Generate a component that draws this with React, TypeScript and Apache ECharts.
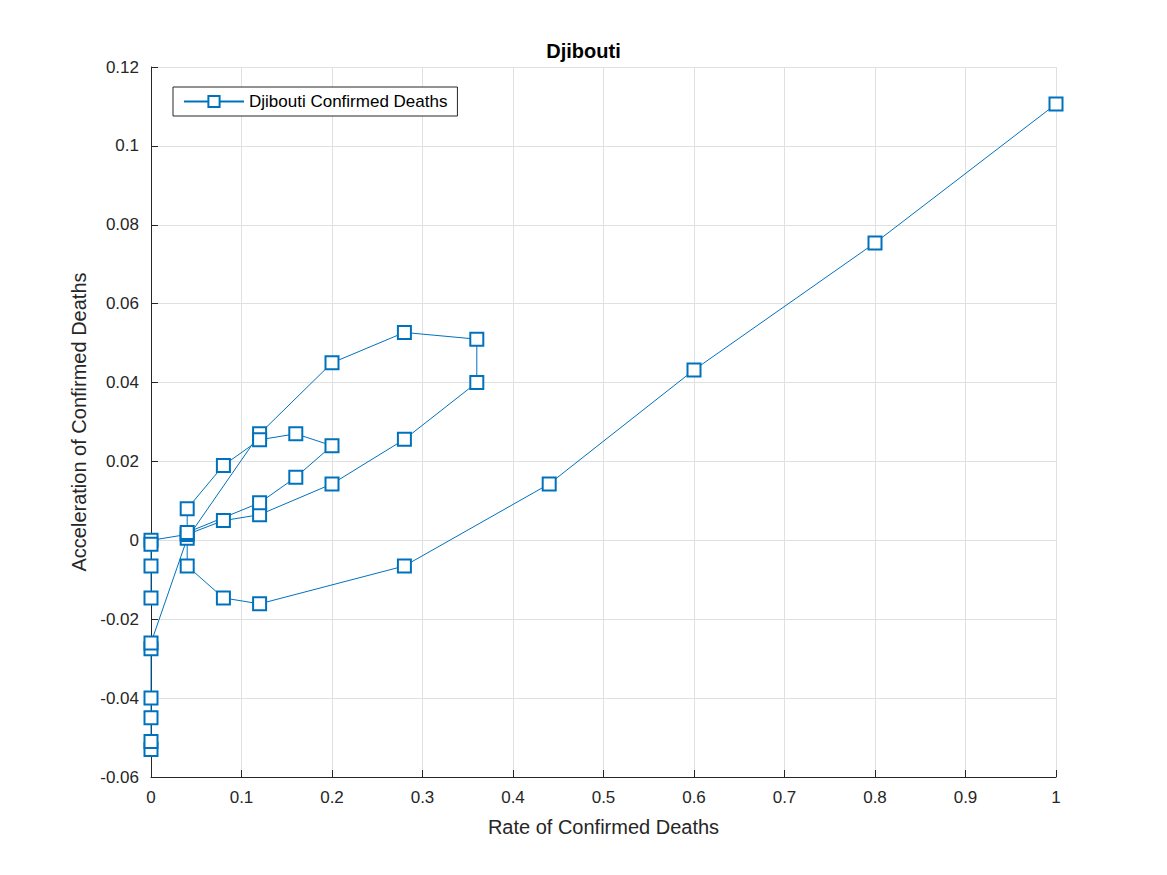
import { useEffect, useRef } from 'react';
import * as echarts from 'echarts';

// rate of confirmed deaths (x) vs acceleration (y); null breaks the line
const rate: (number | null)[] = [
  0, 0, 0, 0, 0, 0, 0.04, 0.12, 0.2, 0.28, 0.36, 0.36, 0.28, 0.2, 0.12, 0.08, 0.04, 0, 0, 0, 0,
  null,
  0.04, 0.12, 0.16, 0.2, 0.16, 0.12, 0.08, 0.04, 0.04, 0.08, 0.12, 0.28, 0.44, 0.6, 0.8, 1,
];
const accel: (number | null)[] = [
  -0.053, -0.051, -0.045, -0.04, -0.0275, -0.026, 0.0005, 0.027, 0.045, 0.0527, 0.051, 0.04, 0.0256,
  0.0143, 0.0065, 0.005, 0.0015, 0, -0.001, -0.0065, -0.0146,
  null,
  0.002, 0.0095, 0.016, 0.024, 0.027, 0.0255, 0.019, 0.008, -0.0065, -0.0146, -0.0161, -0.0065,
  0.0143, 0.0432, 0.0754, 0.1106,
];

const font = 'Helvetica, "Liberation Sans", Arial, sans-serif';

export default function App() {
  const ref = useRef<HTMLDivElement>(null);

  useEffect(() => {
    if (!ref.current) return;
    const chart = echarts.init(ref.current, null, { renderer: 'svg' });
    const axisCommon = {
      axisLine: { show: true, onZero: false, lineStyle: { color: '#262626' } },
      axisTick: { show: true, inside: true, length: 7, lineStyle: { color: '#262626' } },
      splitLine: { show: true, lineStyle: { color: '#e0e0e0' } },
      nameLocation: 'middle' as const,
      nameTextStyle: { fontSize: 20, color: '#262626', fontFamily: font },
      axisLabel: {
        fontSize: 17,
        color: '#262626',
        fontFamily: font,
        formatter: (v: number) => String(parseFloat(v.toFixed(2))),
      },
    };
    chart.setOption({
      animation: false,
      title: {
        text: 'Djibouti',
        left: 'center',
        top: 36,
        textStyle: { fontSize: 20, fontWeight: 'bold', color: '#000', fontFamily: font },
      },
      legend: {
        left: 173,
        top: 87,
        orient: 'vertical',
        backgroundColor: '#fff',
        borderColor: '#262626',
        borderWidth: 1,
        borderRadius: 0,
        padding: [6, 10, 6, 10],
        itemWidth: 60,
        itemHeight: 14,
        textStyle: { fontSize: 17, color: '#000', fontFamily: font },
      },
      grid: { left: 151, right: 111, top: 67, bottom: 98 },
      xAxis: {
        ...axisCommon,
        type: 'value',
        min: 0,
        max: 1,
        interval: 0.1,
        name: 'Rate of Confirmed Deaths',
        nameGap: 40,
        axisLabel: { ...axisCommon.axisLabel, margin: 12 },
      },
      yAxis: {
        ...axisCommon,
        type: 'value',
        min: -0.06,
        max: 0.12,
        interval: 0.02,
        name: 'Acceleration of Confirmed Deaths',
        nameGap: 62,
        axisLabel: { ...axisCommon.axisLabel, margin: 12 },
      },
      series: [
        {
          name: 'Djibouti Confirmed Deaths',
          type: 'line',
          connectNulls: false,
          symbol: 'rect',
          symbolSize: 13,
          itemStyle: { color: '#fff', borderColor: '#0072BD', borderWidth: 2 },
          lineStyle: { color: '#0072BD', width: 1 },
          data: rate.map((x, i) => (x === null ? [null, null] : [x, accel[i]])),
        },
      ],
    });
    return () => chart.dispose();
  }, []);

  return (
    <div
      ref={ref}
      style={{ position: 'fixed', left: 0, top: 0, width: 1167, height: 875, background: '#fff' }}
    />
  );
}
